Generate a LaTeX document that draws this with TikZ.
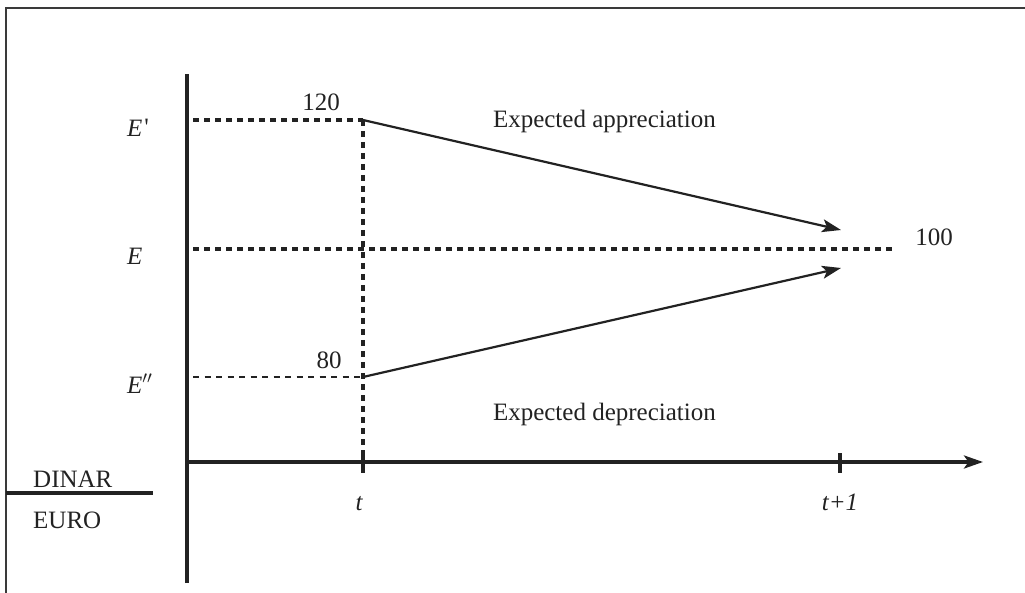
\documentclass[tikz,border=0pt]{standalone}
\usepackage{fontspec}
\setmainfont{Liberation Serif}
\usetikzlibrary{arrows.meta}
\definecolor{ink}{HTML}{222222}
\definecolor{framec}{HTML}{3A3A3A}
\begin{document}
\begin{tikzpicture}[x=1pt,y=-1pt,
  axisline/.style={draw=ink,line width=3.3pt},
  guide/.style={draw=ink,line width=3.2pt,dash pattern=on 6pt off 5pt},
  thinguide/.style={draw=ink,line width=2.2pt,dash pattern=on 6pt off 5.5pt},
  vguide/.style={draw=ink,line width=3.2pt,dash pattern=on 6pt off 5pt},
  arrowline/.style={draw=ink,line width=2.2pt,-{Stealth[length=19pt,width=13pt,inset=4.5pt]}},
  lbl/.style={font=\fontsize{25}{30}\selectfont,text=ink,inner sep=0pt},
  ilbl/.style={lbl,font=\fontsize{25}{30}\selectfont\itshape}]
\useasboundingbox (0,0) rectangle (1025,593);
% frame
\coordinate (fbl) at (6,593);
\coordinate (ftl) at (6,8);
\coordinate (ftr) at (1025,8);
\draw[draw=framec,line width=2.6pt] (fbl) -- (ftl) -- (ftr);
% axes
\coordinate (yb) at (187,583);
\coordinate (yt) at (187,74);
\coordinate (x0) at (187,462);
\coordinate (xe) at (983,462);
\draw[axisline] (yb) -- (yt);
\draw[axisline,-{Stealth[length=19pt,width=13pt,inset=4.5pt]}] (x0) -- (xe);
% ticks
\coordinate (tt) at (363,453);
\coordinate (tb) at (363,473);
\coordinate (t1t) at (840,453);
\coordinate (t1b) at (840,473);
\draw[axisline] (tt) -- (tb);
\draw[axisline] (t1t) -- (t1b);
% key points
\coordinate (A) at (363,120);
\coordinate (B) at (363,377);
\coordinate (Aend) at (841,230);
\coordinate (Bend) at (841,268);
\coordinate (Ep0) at (193,120);
\coordinate (E0) at (193,249);
\coordinate (E1) at (892,249);
\coordinate (Epp0) at (193,377);
\coordinate (Tb) at (363,462);
% guides
\draw[guide] (Ep0) -- (A);
\draw[guide] (E0) -- (E1);
\draw[thinguide] (Epp0) -- (B);
\draw[vguide] (A) -- (Tb);
% arrows
\draw[arrowline] (A) -- (Aend);
\draw[arrowline] (B) -- (Bend);
% labels
\node[lbl] (n120) at (321,102.5) {120};
\node[lbl] (n80) at (329,360) {80};
\node[lbl] (n100) at (934,237) {100};
\node[ilbl,anchor=base west] (Ep) at (127,137) {E\kern2pt\raisebox{1pt}{\upshape\textquotesingle}};
\node[ilbl,anchor=base west] (E) at (127,265) {E};
\node[ilbl,anchor=base west] (Epp) at (127,393) {E$''$};
\node[lbl,anchor=base east] (app) at (716,128) {Expected appreciation};
\node[lbl,anchor=base east] (dep) at (716,420) {Expected depreciation};
\node[ilbl,anchor=base] (t) at (359,510) {t};
\node[ilbl,anchor=base] (t1) at (840,510) {t+1};
% DINAR/EURO
\coordinate (dl0) at (6,493);
\coordinate (dl1) at (153,493);
\draw[axisline] (dl0) -- (dl1);
\node[lbl,anchor=base west] (dinar) at (33,487) {DINAR};
\node[lbl,anchor=base west] (euro) at (33,528) {EURO};
\end{tikzpicture}
\end{document}
